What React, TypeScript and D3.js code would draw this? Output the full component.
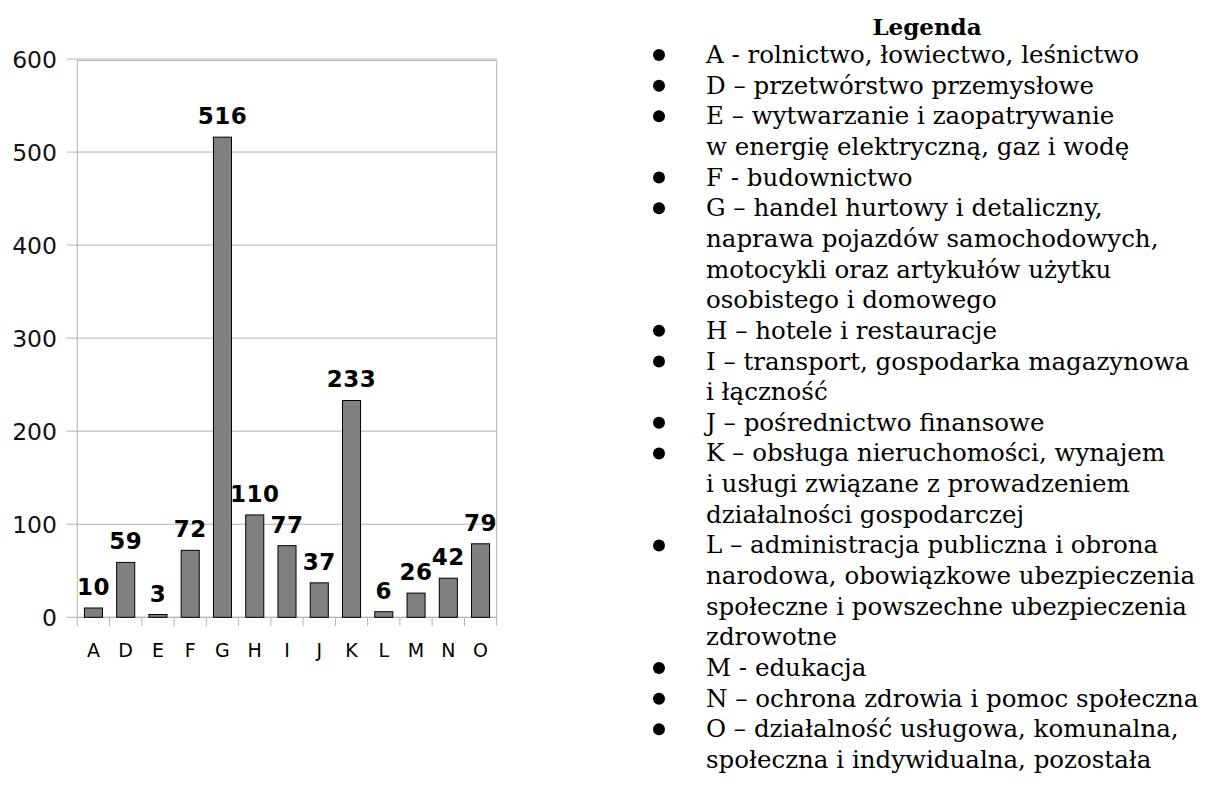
import React, { useEffect, useRef } from 'react';
import * as d3 from 'd3';

const categories = ['A', 'D', 'E', 'F', 'G', 'H', 'I', 'J', 'K', 'L', 'M', 'N', 'O'];
const counts = [10, 59, 3, 72, 516, 110, 77, 37, 233, 6, 26, 42, 79];
const yTicks = [0, 100, 200, 300, 400, 500, 600];

// each entry: one bullet, possibly several wrapped lines
const legendItems: string[][] = [
  ['A - rolnictwo, łowiectwo, leśnictwo'],
  ['D – przetwórstwo przemysłowe'],
  ['E – wytwarzanie i zaopatrywanie', 'w energię elektryczną, gaz i wodę'],
  ['F - budownictwo'],
  ['G – handel hurtowy i detaliczny,', 'naprawa pojazdów samochodowych,', 'motocykli oraz artykułów użytku', 'osobistego i domowego'],
  ['H – hotele i restauracje'],
  ['I – transport, gospodarka magazynowa', 'i łączność'],
  ['J – pośrednictwo finansowe'],
  ['K – obsługa nieruchomości, wynajem', 'i usługi związane z prowadzeniem', 'działalności gospodarczej'],
  ['L – administracja publiczna i obrona', 'narodowa, obowiązkowe ubezpieczenia', 'społeczne i powszechne ubezpieczenia', 'zdrowotne'],
  ['M - edukacja'],
  ['N – ochrona zdrowia i pomoc społeczna'],
  ['O – działalność usługowa, komunalna,', 'społeczna i indywidualna, pozostała'],
];

const serif = "'DejaVu Serif', serif";

const App: React.FC = () => {
  const svgRef = useRef<SVGSVGElement>(null);

  useEffect(() => {
    if (!svgRef.current) return;
    const width = 1217;
    const height = 787;
    const left = 77.3, right = 496.7, top = 60.5, bottom = 617.3;
    const grid = '#b3b3b3';

    const svg = d3.select(svgRef.current)
      .attr('width', width)
      .attr('height', height)
      .html('');

    const x = d3.scaleBand<string>()
      .domain(categories)
      .range([left, right])
      .paddingInner(0.44)
      .paddingOuter(0.22);
    const y = d3.scaleLinear().domain([0, 600]).range([bottom, 59]);

    // grid lines + y ticks
    svg.selectAll('.grid')
      .data(yTicks)
      .enter().append('line')
      .attr('x1', 66.7)
      .attr('x2', right)
      .attr('y1', d => y(d))
      .attr('y2', d => y(d))
      .style('stroke', grid)
      .style('stroke-width', 1);

    svg.selectAll('.ylab')
      .data(yTicks)
      .enter().append('text')
      .attr('x', 57)
      .attr('y', d => y(d) + 8.5)
      .attr('text-anchor', 'end')
      .style('font-family', 'DejaVu Sans')
      .style('font-size', '23.5px')
      .style('fill', '#111')
      .text(d => d);

    // plot frame
    svg.append('rect')
      .attr('x', left)
      .attr('y', top)
      .attr('width', right - left)
      .attr('height', bottom - top)
      .style('fill', 'none')
      .style('stroke', grid);

    // category separators
    const step = x.step();
    const bounds = categories.map((c, i) => left + i * step).concat([right]);
    svg.selectAll('.ctick')
      .data(bounds)
      .enter().append('line')
      .attr('x1', d => d)
      .attr('x2', d => d)
      .attr('y1', bottom)
      .attr('y2', 626)
      .style('stroke', grid);

    // bars
    svg.selectAll('.bar')
      .data(counts)
      .enter().append('rect')
      .attr('x', (d, i) => x(categories[i])!)
      .attr('y', d => y(d))
      .attr('width', x.bandwidth())
      .attr('height', d => bottom - y(d))
      .style('fill', '#808080')
      .style('stroke', '#000')
      .style('stroke-width', 1);

    // value labels
    svg.selectAll('.val')
      .data(counts)
      .enter().append('text')
      .attr('x', (d, i) => x(categories[i])! + x.bandwidth() / 2)
      .attr('y', d => y(d) - 13)
      .attr('text-anchor', 'middle')
      .style('font-family', 'DejaVu Sans')
      .style('font-weight', 'bold')
      .style('font-size', '23px')
      .style('letter-spacing', '0.5px')
      .text(d => d);

    // x labels
    svg.selectAll('.xlab')
      .data(categories)
      .enter().append('text')
      .attr('x', d => x(d)! + x.bandwidth() / 2)
      .attr('y', 657)
      .attr('text-anchor', 'middle')
      .style('font-family', 'DejaVu Sans')
      .style('font-size', '19px')
      .text(d => d);

    // legend
    const lg = svg.append('g');
    lg.append('text')
      .attr('x', 927)
      .attr('y', 35)
      .attr('text-anchor', 'middle')
      .style('font-family', serif)
      .style('font-weight', 'bold')
      .style('font-size', '23px')
      .text('Legenda');

    const lineH = 30.65;
    let row = 0;
    legendItems.forEach(lines => {
      const base = 63 + row * lineH;
      lg.append('circle')
        .attr('cx', 659)
        .attr('cy', base - 8)
        .attr('r', 6)
        .style('fill', '#000');
      lines.forEach((t, j) => {
        lg.append('text')
          .attr('x', 706)
          .attr('y', base + j * lineH)
          .style('font-family', serif)
          .style('font-size', '24.5px')
          .text(t);
      });
      row += lines.length;
    });
  }, []);

  return (
    <div style={{ position: 'absolute', left: 0, top: 0, background: '#fff' }}>
      <svg ref={svgRef}></svg>
    </div>
  );
};

export default App;
